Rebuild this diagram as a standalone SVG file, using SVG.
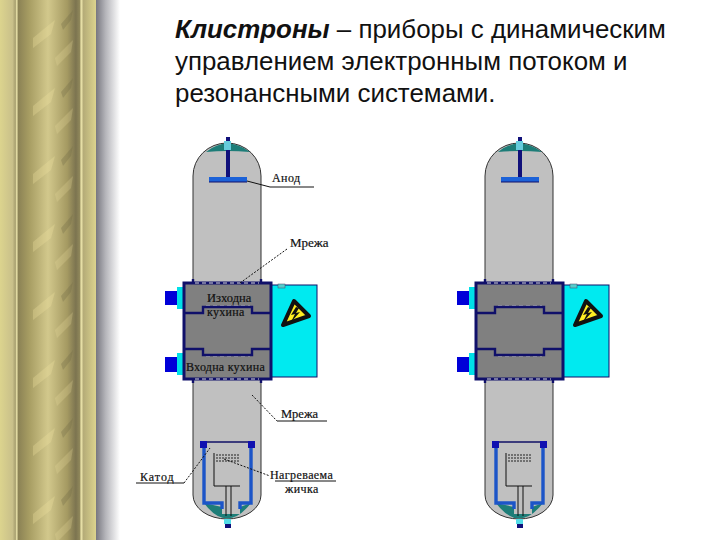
<svg xmlns="http://www.w3.org/2000/svg" xmlns:xlink="http://www.w3.org/1999/xlink" width="720" height="540" viewBox="0 0 720 540">
<style>
.t{font-family:"Liberation Sans",Arial,sans-serif;font-size:25.9px;fill:#111}
.l{font-family:"Liberation Serif","Times New Roman",serif;font-size:12px;fill:#111;stroke:#111;stroke-width:.2}
.ld{stroke:#111;stroke-width:1;fill:none}
.dash{stroke:#111;stroke-width:1;fill:none;stroke-dasharray:2 1.5}
.navy{stroke:#10106a;stroke-width:2.4;fill:none}
.blue{stroke:#1c55c8;stroke-width:3.4;fill:none}
.tick{stroke:#d8d8d8;stroke-width:1;fill:none;stroke-dasharray:4 3}
</style>
<defs>
<linearGradient id="strip" x1="0" x2="1" y1="0" y2="0">
<stop offset="0" stop-color="#dcd48e"/><stop offset=".13" stop-color="#c9c08a"/><stop offset=".16" stop-color="#a8a070"/><stop offset=".175" stop-color="#efe8ae"/><stop offset=".19" stop-color="#8b8255"/>
<stop offset=".3" stop-color="#a69c62"/><stop offset=".5" stop-color="#d2c88c"/><stop offset=".7" stop-color="#a59a62"/><stop offset=".79" stop-color="#7c7450"/>
<stop offset=".83" stop-color="#8f875a"/><stop offset=".845" stop-color="#efe8ae"/><stop offset=".87" stop-color="#b5ac78"/><stop offset="1" stop-color="#dcd48e"/>
</linearGradient>
<linearGradient id="shadow" x1="0" x2="1" y1="0" y2="0">
<stop offset="0" stop-color="#77777f"/><stop offset=".4" stop-color="#b5b5ba"/><stop offset="1" stop-color="#fff"/>
</linearGradient>
<pattern id="rope" width="64" height="68" patternUnits="userSpaceOnUse" x="17">
<path d="M16 38 L38 20 L34 34 L16 48Z" fill="#efe3a0" opacity=".3"/>
<path d="M38 58 L56 40 L54 52 L40 66Z" fill="#f0e4a4" opacity=".22"/>
<path d="M44 24 L56 10 L54 20 L46 30Z" fill="#6f6844" opacity=".3"/>
</pattern>
<g id="klystron">
<path d="M193 176 A34 33 0 0 1 261 176 V495 A34 24 0 0 1 193 495Z" fill="#c0c0c0" stroke="#333" stroke-width="1"/>
<path d="M206 152 Q227 135 250 152 Q227 150 206 152Z" fill="#1d7d78"/>
<rect x="226" y="137" width="4" height="40" fill="#10107a"/>
<rect x="224" y="141" width="7" height="9" fill="#66ccdd"/>
<rect x="226" y="150" width="4" height="27" fill="#10107a"/>
<rect x="209" y="177" width="38" height="5" fill="#1c62d8"/>
<path d="M209 182H247" stroke="#10106a" stroke-width="1"/>
<rect x="165" y="291" width="12" height="14" fill="#0000d8"/>
<rect x="165" y="357" width="12" height="15" fill="#0000d8"/>
<rect x="177" y="287" width="8" height="22" fill="#00e0e8"/>
<rect x="177" y="353" width="8" height="22" fill="#00e0e8"/>
<rect x="271" y="285" width="46" height="92" fill="#00eaf0" stroke="#10106a" stroke-width="1"/>
<rect x="278" y="284" width="7" height="4" fill="#55cccc" stroke="#446" stroke-width=".5"/>
<rect x="184" y="283" width="87" height="96" fill="#808080" stroke="#10106a" stroke-width="3"/>
<path class="navy" d="M193 283V279M261 283V279M193 379V383M261 379V383"/>
<path class="tick" d="M195 283H259M195 379H259M206 306H250M206 356H250"/>
<path class="navy" d="M184 313H203V307H252V313H271M184 349H203V355H252V349H271"/>
<path d="M294 301 L309 316 L283 325Z" fill="#ffee22" stroke="#111" stroke-width="4" stroke-linejoin="round"/>
<path d="M296 307 L291 315 L295 314 L291 322 L300 312 L296 313 L299 308Z" fill="#111"/>
<path d="M204 503 Q227 534 251 503 L240 507 V514 H222 V507Z" fill="#1d7d78"/>
<path class="blue" d="M204 444V503H222V509M251 444V503H240V509"/>
<path d="M202 442H252" stroke="#116" stroke-width="1.4"/>
<rect x="200" y="441" width="7" height="7" fill="#1010b0"/>
<rect x="248" y="441" width="7" height="7" fill="#1010b0"/>
<path d="M216 455H240M216 458H240M216 461H240" stroke="#222" stroke-width="1" stroke-dasharray="2 1"/>
<path d="M214 453V486H240M226 486V516M231 486V516" stroke="#111" stroke-width="1" fill="none"/>
<rect x="224" y="519" width="7" height="5" fill="#55dde8"/>
<rect x="225" y="524" width="6" height="4" fill="#10107a"/>
</g>
</defs>
<rect width="720" height="540" fill="#fff"/>
<g id="frame">
<rect x="96" width="24" height="540" fill="url(#shadow)"/>
<rect width="96" height="540" fill="url(#strip)"/>
<rect x="17" width="63" height="540" fill="url(#rope)"/>
</g>
<g id="title">
<text class="t" x="175" y="38"><tspan font-weight="bold" font-style="italic">Клистроны</tspan> – приборы с динамическим</text>
<text class="t" x="175" y="70">управлением электронным потоком и</text>
<text class="t" x="175" y="102">резонансными системами.</text>
</g>
<g id="klystron-left"><use href="#klystron" xlink:href="#klystron"/></g>
<g id="klystron-right"><use href="#klystron" xlink:href="#klystron" x="292"/></g>
<g id="connectors">
<path class="ld" d="M247 181 L270 187 H314"/>
<path class="dash" d="M287 249 L240 283"/>
<path class="dash" d="M252 395 L277 421"/>
<path class="ld" d="M277 421 H327"/>
<path class="ld" d="M136 483 H184"/>
<path class="dash" d="M184 483 L210 448"/>
<path class="dash" d="M224 459 L270 476"/>
<path class="ld" d="M275 481 H336"/>
</g>
<g id="labels">
<text class="l" x="272" y="182" letter-spacing=".4">Анод</text>
<text class="l" x="290" y="247" style="font-size:13px">Мрежа</text>
<text class="l" x="281" y="418" style="font-size:12.5px">Мрежа</text>
<text class="l" x="140" y="481" letter-spacing="1">Катод</text>
<text class="l" x="270" y="479" letter-spacing=".4">Нагреваема</text>
<text class="l" x="285" y="493" letter-spacing=".4">жичка</text>
<text class="l" x="207" y="302" style="font-size:12.5px">Изходна</text>
<text class="l" x="207" y="316" letter-spacing=".3">кухина</text>
<text class="l" x="186" y="371" letter-spacing=".25">Входна кухина</text>
</g>
</svg>
